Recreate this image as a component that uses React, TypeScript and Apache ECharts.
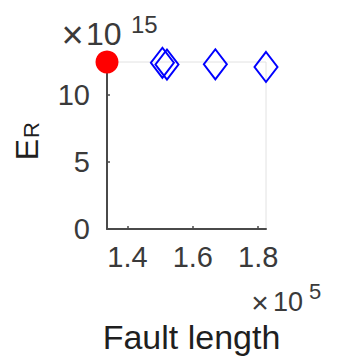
import React, { useEffect, useRef } from "react";
import * as echarts from "echarts";

// Reference event (red) and the other faults (blue diamonds)
const refLength = [133750];
const refEnergy = [12.42e15];
const faultLengths = [150700, 152100, 166900, 182400];
const faultEnergies = [12.36e15, 12.23e15, 12.25e15, 12.05e15];

const xTicks = [140000, 160000, 180000];
const yTicks = [0, 5e15, 10e15];
const xScale = 1e5;
const yScale = 1e15;

const FONT = "'Liberation Sans', Arial, Helvetica, sans-serif";
const AXIS_COLOR = "#4a4a4a";
const LABEL_COLOR = "#3a3a3a";
const TITLE_COLOR = "#1f1f1f";

export default function App() {
  const ref = useRef<HTMLDivElement>(null);

  useEffect(() => {
    if (!ref.current) return;
    const chart = echarts.init(ref.current, null, { renderer: "svg" });

    const allX = [...refLength, ...faultLengths];
    const allY = [...refEnergy, ...faultEnergies];
    const xMin = Math.min(...allX);
    const xMax = Math.max(...allX);
    const yMax = Math.max(...allY);

    const label = (text: string, size: number, x: number, y: number, fill: string, align = "left") => ({
      type: "text",
      x,
      y,
      style: { text, font: `${size}px ${FONT}`, fill, align, verticalAlign: "middle" },
    });

    chart.setOption({
      animation: false,
      grid: {
        left: 107,
        top: 62,
        width: 159,
        height: 167,
        show: true,
        borderColor: "#e2e2e2",
        borderWidth: 1,
        backgroundColor: "transparent",
      },
      xAxis: {
        type: "value",
        min: xMin,
        max: xMax,
        axisLine: { show: true, lineStyle: { color: AXIS_COLOR, width: 2 } },
        axisTick: {
          show: true,
          inside: true,
          length: 3,
          customValues: xTicks,
          lineStyle: { color: AXIS_COLOR, width: 1.5 },
        },
        axisLabel: {
          customValues: xTicks,
          formatter: (v: number) => (v / xScale).toFixed(1),
          color: LABEL_COLOR,
          fontFamily: FONT,
          fontSize: 29,
          margin: 28,
          verticalAlign: "middle",
        },
        splitLine: { show: false },
      },
      yAxis: {
        type: "value",
        min: 0,
        max: yMax,
        axisLine: { show: true, lineStyle: { color: AXIS_COLOR, width: 2 } },
        axisTick: {
          show: true,
          inside: true,
          length: 3,
          customValues: yTicks,
          lineStyle: { color: AXIS_COLOR, width: 1.5 },
        },
        axisLabel: {
          customValues: yTicks,
          formatter: (v: number) => String(Math.round(v / yScale)),
          color: LABEL_COLOR,
          fontFamily: FONT,
          fontSize: 29,
          margin: 17,
          align: "right",
        },
        splitLine: { show: false },
      },
      series: [
        {
          type: "scatter",
          clip: false,
          z: 3,
          symbol: "diamond",
          symbolSize: [23, 30],
          itemStyle: {
            color: "rgba(0,0,0,0)",
            borderColor: "#0000ff",
            borderWidth: 2,
            opacity: 1,
          },
          data: faultLengths.map((x, i) => [x, faultEnergies[i]]),
        },
        {
          type: "scatter",
          clip: false,
          z: 4,
          symbol: "circle",
          symbolSize: 23,
          itemStyle: { color: "#ff0000", opacity: 1 },
          data: refLength.map((x, i) => [x, refEnergy[i]]),
        },
      ],
      graphic: [
        // y exponent: ×10^15
        label("×", 38, 72.5, 35, LABEL_COLOR, "center"),
        label("10", 32, 86, 34, LABEL_COLOR),
        label("15", 24, 131, 24, LABEL_COLOR),
        // x exponent: ×10^5
        label("×", 30, 260, 302, LABEL_COLOR, "center"),
        label("10", 27, 273, 302, LABEL_COLOR),
        label("5", 22, 309, 291, LABEL_COLOR),
        // axis titles
        label("Fault length", 34, 191.5, 337, TITLE_COLOR, "center"),
        {
          type: "text",
          x: 26.5,
          y: 149.5,
          rotation: Math.PI / 2,
          style: {
            text: "E",
            font: `32px ${FONT}`,
            fill: TITLE_COLOR,
            align: "center",
            verticalAlign: "middle",
          },
        },
        {
          type: "text",
          x: 31,
          y: 130,
          rotation: Math.PI / 2,
          style: {
            text: "R",
            font: `22px ${FONT}`,
            fill: TITLE_COLOR,
            align: "center",
            verticalAlign: "middle",
          },
        },
      ],
    });

    return () => chart.dispose();
  }, []);

  return (
    <div
      ref={ref}
      style={{ position: "fixed", left: 0, top: 0, width: 337, height: 358, background: "#fff" }}
    />
  );
}
